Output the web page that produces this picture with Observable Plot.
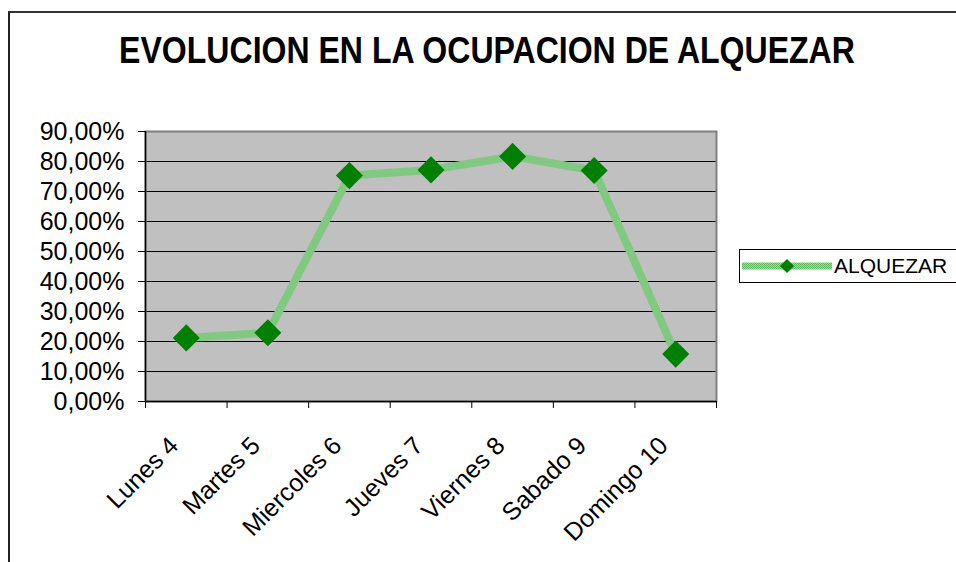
<!DOCTYPE html>
<html>
<head>
<meta charset="utf-8">
<script src="https://cdn.jsdelivr.net/npm/d3@7"></script>
<script src="https://cdn.jsdelivr.net/npm/@observablehq/plot@0.6"></script>
<style>
  html, body { margin: 0; padding: 0; background: white; }
  #wrap { position: relative; width: 956px; height: 562px; overflow: hidden; font-family: "Liberation Sans", Arial, sans-serif; }
  #border { position: absolute; left: 8px; top: 11px; width: 1000px; height: 600px; border-left: 2px solid #222; border-top: 2px solid #333; }
  #title { position: absolute; left: 0; top: 33px; width: 974px; text-align: center; font-weight: bold; font-size: 36px; line-height: 1; color: #000; transform: scaleX(0.89); transform-origin: 487px 0; }
  #legend { position: absolute; left: 739px; top: 249px; width: 240px; height: 32px; border: 1px solid #000; background: white; }
  #legend span { position: absolute; left: 94px; top: 4px; font-size: 21px; color: #000; }
  #legend svg { position: absolute; left: 2px; top: 4px; }
  #chart { position: absolute; left: 0; top: 0; }
</style>
</head>
<body>
<div id="wrap">
  <div id="chart"></div>
  <div id="border"></div>
  <div id="title"></div>
  <div id="legend"><svg width="92" height="24"></svg><span></span></div>
</div>
<script>
const titleText = "EVOLUCION EN LA OCUPACION DE ALQUEZAR";
const seriesName = "ALQUEZAR";
const days = ["Lunes 4", "Martes 5", "Miercoles 6", "Jueves 7", "Viernes 8", "Sabado 9", "Domingo 10"];
const values = [21.2, 22.9, 75.3, 77.2, 81.7, 77.0, 15.8];
const yTicks = [0, 10, 20, 30, 40, 50, 60, 70, 80, 90];

const lineColor = "#80c880";
const markerColor = "#008000";

const data = days.map((d, i) => ({day: d, xi: i + 0.5, v: values[i]}));
const bandEdges = days.map((d, i) => i).concat([days.length]);
const bandCenters = days.map((d, i) => i + 0.5);
const fmt = v => v.toFixed(2).replace(".", ",") + "%";

const chart = Plot.plot({
  width: 956,
  height: 562,
  marginLeft: 145,
  marginRight: 240,
  marginTop: 131,
  marginBottom: 161,
  style: {fontFamily: "Liberation Sans, Arial, sans-serif", fontSize: "25px", background: "transparent", color: "#000"},
  x: {domain: [0, days.length], axis: null},
  y: {domain: [0, 90], axis: null},
  marks: [
    Plot.frame({fill: "#c0c0c0"}),
    Plot.ruleY(yTicks.filter(t => t > 0 && t < 90), {stroke: "#000", strokeWidth: 1}),
    Plot.frame({stroke: "#808080", strokeWidth: 2}),
    Plot.ruleX([0], {stroke: "#000", strokeWidth: 1.5}),
    Plot.ruleY([0], {stroke: "#000", strokeWidth: 1.5}),
    Plot.axisY({ticks: yTicks, tickFormat: fmt, tickSize: 7, tickPadding: 14, fontSize: 25, stroke: "#000", label: null}),
    Plot.axisX({ticks: bandEdges, tickFormat: () => "", tickSize: 7, stroke: "#000", label: null}),
    Plot.axisX({ticks: bandCenters, tickFormat: v => days[Math.floor(v)], tickSize: 0, tickPadding: 40, tickRotate: -45, fontSize: 25, dx: -12, label: null}),
    Plot.line(data, {x: "xi", y: "v", stroke: lineColor, strokeWidth: 8}),
    Plot.dot(data, {x: "xi", y: "v", symbol: "square", r: 10.8, rotate: 45, fill: markerColor, stroke: "none"})
  ]
});
document.getElementById("chart").appendChild(chart);
document.getElementById("title").textContent = titleText;
document.querySelector("#legend span").textContent = seriesName;

// hatched texture for the series line (Excel-style pattern)
function addPattern(svgSel, id) {
  const p = svgSel.append("defs").append("pattern").attr("id", id)
    .attr("patternUnits", "userSpaceOnUse").attr("width", 2).attr("height", 2);
  p.append("rect").attr("width", 2).attr("height", 2).attr("fill", "#a3daa3");
  p.append("rect").attr("width", 1).attr("height", 1).attr("fill", "#5cb85c");
  p.append("rect").attr("x", 1).attr("y", 1).attr("width", 1).attr("height", 1).attr("fill", "#5cb85c");
}
const svgMain = d3.select(chart);
addPattern(svgMain, "hatchA");
svgMain.selectAll("[aria-label='line'], [aria-label='line'] path").attr("stroke", "url(#hatchA)").style("stroke", "url(#hatchA)");

const lg = d3.select("#legend svg");
addPattern(lg, "hatchB");
lg.append("line").attr("x1", 0).attr("x2", 90).attr("y1", 12).attr("y2", 12)
  .attr("stroke", "url(#hatchB)").attr("stroke-width", 7);
lg.append("path").attr("d", d3.symbol(d3.symbolSquare, 100)()).attr("transform", "translate(45,12) rotate(45)")
  .attr("fill", markerColor);
</script>
</body>
</html>
